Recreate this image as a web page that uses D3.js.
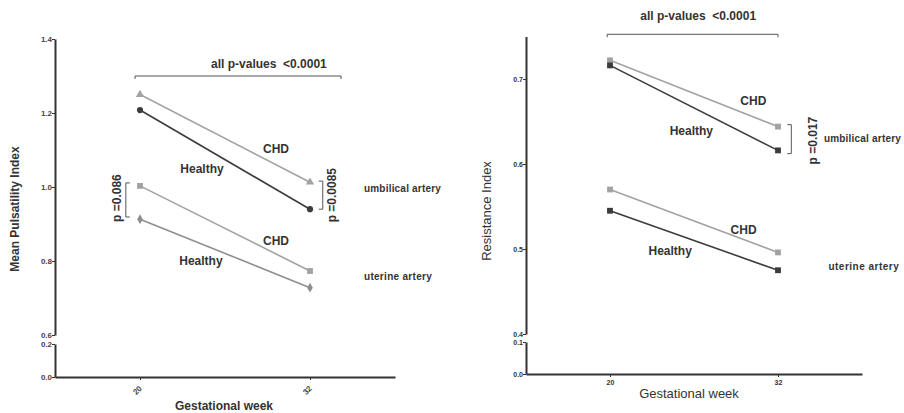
<!DOCTYPE html>
<html>
<head>
<meta charset="utf-8">
<script src="https://cdn.jsdelivr.net/npm/d3@7"></script>
<style>
  body { margin: 0; background: #fff; }
  svg { display: block; font-family: "Liberation Sans", Arial, sans-serif; }
  .pre { white-space: pre; }
</style>
</head>
<body>
<div id="chart"></div>
<script>
// Gestational weeks measured
const weeks = [20, 32];

// Mean pulsatility index (left panel)
const piUmbCHD = [1.25, 1.013];
const piUmbHealthy = [1.208, 0.94];
const piUtCHD = [1.003, 0.773];
const piUtHealthy = [0.913, 0.728];

// Resistance index (right panel)
const riUmbCHD = [0.722, 0.644];
const riUmbHealthy = [0.716, 0.616];
const riUtCHD = [0.570, 0.496];
const riUtHealthy = [0.545, 0.475];

// Tick values
const piTicksUpper = [0.6, 0.8, 1.0, 1.2, 1.4];
const piTicksLower = [0.0, 0.2];
const riTicksUpper = [0.4, 0.5, 0.6, 0.7];
const riTicksLower = [0.0, 0.1];

const W = 904, H = 413;
const svg = d3.select("#chart").append("svg")
    .attr("width", W)
    .attr("height", H);

const textCol = "#333";
const light = "#a2a2a2";
const dark = "#3c3c3c";
const mid = "#8e8e8e";

function drawPanel(cfg) {
    const g = svg.append("g");

    const x = d3.scaleLinear().domain([14, 38]).range(cfg.xRange);
    const yU = d3.scaleLinear().domain(cfg.upperDomain).range(cfg.upperRange);
    const yL = d3.scaleLinear().domain(cfg.lowerDomain).range(cfg.lowerRange);

    // y axis, upper part
    const axU = g.append("g")
        .attr("transform", `translate(${cfg.xRange[0]},0)`)
        .call(d3.axisLeft(yU).tickValues(cfg.ticksUpper).tickSize(3).tickSizeOuter(0).tickFormat(d3.format(".1f")));
    // y axis, lower part (broken axis)
    const axL = g.append("g")
        .attr("transform", `translate(${cfg.xRange[0]},0)`)
        .call(d3.axisLeft(yL).tickValues(cfg.ticksLower).tickSize(3).tickSizeOuter(0).tickFormat(d3.format(".1f")));

    // x axis
    const axX = g.append("g")
        .attr("transform", `translate(0,${cfg.lowerRange[0]})`)
        .call(d3.axisBottom(x).tickValues(weeks).tickSize(3).tickSizeOuter(0));

    [axU, axL, axX].forEach(a => {
        a.select(".domain").attr("stroke", "#333").attr("stroke-width", 2);
        a.selectAll(".tick line").attr("stroke", "#333").attr("stroke-width", 1);
        a.selectAll(".tick text")
            .attr("fill", cfg.tickCol)
            .attr("font-size", cfg.tickSize)
            .attr("font-weight", "bold")
            .attr("font-family", "'Liberation Sans', Arial, sans-serif");
    });
    [axU, axL].forEach(a => a.selectAll(".tick text").attr("x", -3));

    if (cfg.rotateX) {
        axX.selectAll(".tick text")
            .attr("text-anchor", "end")
            .attr("dy", null)
            .attr("y", 0)
            .attr("transform", "translate(2,12) rotate(-45)");
    } else {
        axX.selectAll(".tick text").attr("y", 6).attr("dy", "0.71em");
    }

    // series lines + markers
    const line = d3.line().x(d => x(d.w)).y(d => yU(d.v));
    cfg.series.forEach(s => {
        const pts = weeks.map((w, i) => ({w: w, v: s.values[i]}));
        g.append("path")
            .datum(pts)
            .attr("fill", "none")
            .attr("stroke", s.color)
            .attr("stroke-width", 1.6)
            .attr("d", line);
        g.selectAll(null)
            .data(pts)
            .join("path")
            .attr("transform", d => `translate(${x(d.w)},${yU(d.v)})`)
            .attr("d", d3.symbol().type(s.symbol).size(s.size))
            .attr("fill", s.color);
    });

    // brackets
    cfg.brackets.forEach(b => {
        let p;
        if (b.dir === "down") {
            const x0 = x(b.a), x1 = x(b.b), yy = yU(b.at);
            p = `M${x0},${yy + 3}V${yy}H${x1}V${yy + 3}`;
        } else {
            const y0 = yU(b.a), y1 = yU(b.b), xx = x(b.at);
            const t = b.dir === "right" ? 4 : -4;
            p = `M${xx + t},${y0}H${xx}V${y1}H${xx + t}`;
        }
        g.append("path")
            .attr("d", p)
            .attr("fill", "none")
            .attr("stroke", "#555")
            .attr("stroke-width", 1);
    });

    // annotation text
    cfg.labels.forEach(l => {
        const t = g.append("text")
            .attr("class", "pre")
            .attr("fill", textCol)
            .attr("font-weight", "bold")
            .attr("font-size", l.size || 12)
            .attr("text-anchor", l.anchor || "middle")
            .attr("dominant-baseline", "central")
            .attr("letter-spacing", l.spacing || 0)
            .text(l.text);
        if (l.rotate) {
            t.attr("transform", `translate(${x(l.w)},${yU(l.v)}) rotate(-90)`);
        } else {
            t.attr("x", x(l.w)).attr("y", yU(l.v));
        }
    });

    // axis titles
    g.append("text")
        .attr("transform", `translate(${cfg.yTitle.x},${cfg.yTitle.y}) rotate(-90)`)
        .attr("text-anchor", "middle")
        .attr("fill", textCol)
        .attr("font-size", cfg.yTitle.size)
        .attr("font-weight", cfg.yTitle.weight)
        .text(cfg.yTitle.text);
    g.append("text")
        .attr("x", cfg.xTitle.x)
        .attr("y", cfg.xTitle.y)
        .attr("text-anchor", "middle")
        .attr("fill", textCol)
        .attr("font-size", cfg.xTitle.size)
        .attr("font-weight", cfg.xTitle.weight)
        .text("Gestational week");
}

// Left panel: pulsatility index
drawPanel({
    xRange: [55, 395],
    upperDomain: [0.6, 1.4], upperRange: [335, 39],
    lowerDomain: [0, 0.2], lowerRange: [377, 344],
    ticksUpper: piTicksUpper, ticksLower: piTicksLower,
    tickCol: "#444", tickSize: 8, rotateX: true,
    series: [
        {values: piUmbCHD, color: light, symbol: d3.symbolTriangle, size: 30},
        {values: piUmbHealthy, color: dark, symbol: d3.symbolCircle, size: 30},
        {values: piUtCHD, color: light, symbol: d3.symbolSquare, size: 34},
        {values: piUtHealthy, color: mid, symbol: d3.symbolDiamond, size: 28}
    ],
    brackets: [
        {dir: "down", a: 19.65, b: 34.19, at: 1.3},
        {dir: "left", a: 1.016, b: 0.94, at: 32.9},
        {dir: "right", a: 1.011, b: 0.919, at: 19.0}
    ],
    labels: [
        {text: "all p-values  <0.0001", w: 29.1, v: 1.332},
        {text: "CHD", w: 29.6, v: 1.103},
        {text: "Healthy", w: 24.38, v: 1.049},
        {text: "umbilical artery", w: 35.81, v: 0.997, anchor: "start", size: 10, spacing: 0.2},
        {text: "CHD", w: 29.6, v: 0.854},
        {text: "Healthy", w: 24.3, v: 0.8},
        {text: "uterine artery", w: 35.81, v: 0.757, anchor: "start", size: 10, spacing: 0.3},
        {text: "p =0.0085", w: 33.55, v: 0.978, rotate: true},
        {text: "p =0.086", w: 18.38, v: 0.97, rotate: true}
    ],
    yTitle: {text: "Mean Pulsatility Index", x: 19, y: 209, size: 12, weight: "bold"},
    xTitle: {x: 224, y: 410, size: 12, weight: "bold"}
});

// Right panel: resistance index
drawPanel({
    xRange: [526, 862],
    upperDomain: [0.4, 0.75], upperRange: [334, 36.5],
    lowerDomain: [0, 0.1], lowerRange: [374, 342],
    ticksUpper: riTicksUpper, ticksLower: riTicksLower,
    tickCol: "#333", tickSize: 7, rotateX: false,
    series: [
        {values: riUmbCHD, color: light, symbol: d3.symbolSquare, size: 34},
        {values: riUmbHealthy, color: dark, symbol: d3.symbolSquare, size: 34},
        {values: riUtCHD, color: light, symbol: d3.symbolSquare, size: 34},
        {values: riUtHealthy, color: dark, symbol: d3.symbolSquare, size: 34}
    ],
    brackets: [
        {dir: "down", a: 19.8, b: 32.0, at: 0.7526},
        {dir: "left", a: 0.6463, b: 0.6122, at: 32.95}
    ],
    labels: [
        {text: "all p-values  <0.0001", w: 26.3, v: 0.7745},
        {text: "CHD", w: 30.24, v: 0.6736},
        {text: "Healthy", w: 25.81, v: 0.6384},
        {text: "umbilical artery", w: 35.28, v: 0.6298, anchor: "start", size: 10, spacing: 0.2},
        {text: "CHD", w: 29.54, v: 0.5219},
        {text: "Healthy", w: 24.3, v: 0.498},
        {text: "uterine artery", w: 35.6, v: 0.480, anchor: "start", size: 10, spacing: 0.5},
        {text: "p =0.017", w: 34.48, v: 0.6275, rotate: true}
    ],
    yTitle: {text: "Resistance Index", x: 491, y: 211, size: 13, weight: "normal"},
    xTitle: {x: 689, y: 398, size: 13, weight: "normal"}
});
</script>
</body>
</html>
